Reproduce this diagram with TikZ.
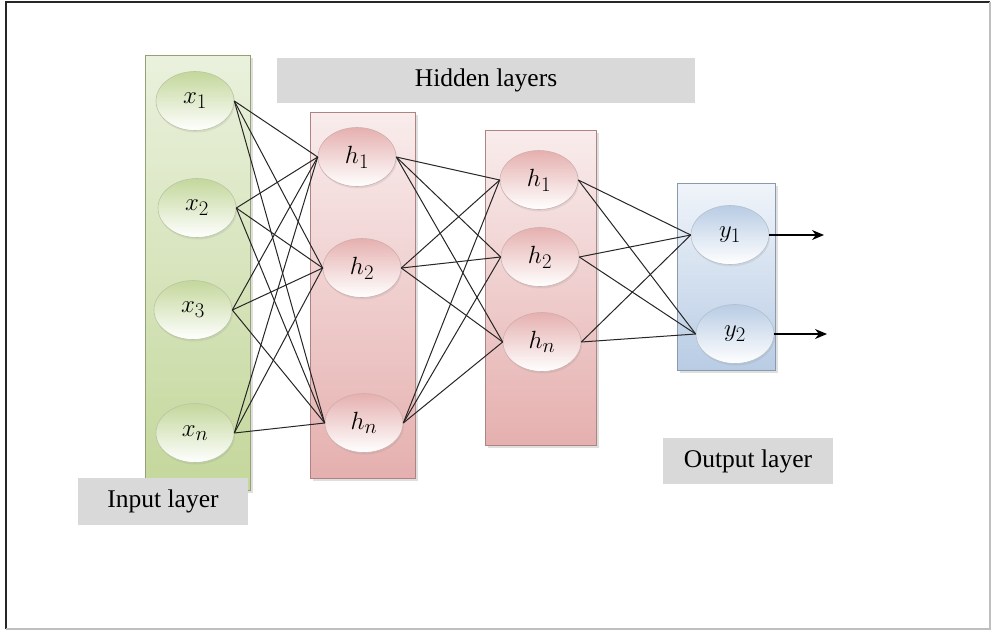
\documentclass[tikz,border=0pt]{standalone}
\usepackage{fontspec}
\setmainfont{Liberation Serif}
\usepackage{tikz}
\usetikzlibrary{arrows.meta,shapes.geometric,shadows}

\definecolor{ingreen}{RGB}{196,215,155}
\definecolor{inpale}{RGB}{234,241,221}
\definecolor{hidred}{RGB}{229,176,175}
\definecolor{hidpale}{RGB}{249,236,236}
\definecolor{outblue}{RGB}{184,204,228}
\definecolor{outpale}{RGB}{240,244,250}
\definecolor{tagfill}{RGB}{217,217,217}

\begin{document}
\begin{tikzpicture}[
  x=1pt,
  y=-1pt,
  layer/.style={draw=#1!75!black, line width=0.8pt, bottom color=#1,
    drop shadow={shadow xshift=2.5pt, shadow yshift=-2.5pt, opacity=0.25}},
  unit/.style={ellipse, draw=#1!80!black!70, line width=0.6pt, top color=#1,
    bottom color=white, minimum width=78pt, minimum height=59pt, inner sep=0pt,
    font=\fontsize{28}{30}\selectfont,
    drop shadow={shadow xshift=1pt, shadow yshift=-2pt, opacity=0.15}},
  tag/.style={fill=tagfill, inner sep=0pt, font=\fontsize{25.5}{28}\selectfont},
  link/.style={line width=1pt, black!85},
  outarrow/.style={-{Stealth[length=12pt,width=10pt]}, line width=1.2pt}
]
  % frame
  \fill[white] (0,0) rectangle (991,630);
  \draw[line width=2pt, black!85] (6,629) -- (6,2) -- (990,2);
  \draw[line width=1.5pt, black!25] (990,2) -- (990,629) -- (6,629);

  % layer boxes
  \draw[layer=ingreen, top color=inpale] (145,55) rectangle (250,490);
  \draw[layer=hidred, top color=hidpale] (310,112) rectangle (415,478);
  \draw[layer=hidred, top color=hidpale] (485,130) rectangle (596,445);
  \draw[layer=outblue, top color=outpale] (677,183) rectangle (775,370);

  \node[tag, minimum width=418pt, minimum height=45pt] (hidtag) at (486,80.5) {Hidden layers};

  % input layer
  \node[unit=ingreen] (x1) at (195,101) {$x_1$};
  \node[unit=ingreen] (x2) at (197,208) {$x_2$};
  \node[unit=ingreen] (x3) at (193,310) {$x_3$};
  \node[unit=ingreen] (xn) at (195,433) {$x_n$};

  % hidden layers
  \node[unit=hidred] (ha1) at (357,157) {$h_1$};
  \node[unit=hidred] (ha2) at (362,268) {$h_2$};
  \node[unit=hidred] (han) at (364,423) {$h_n$};
  \node[unit=hidred] (hb1) at (539,180) {$h_1$};
  \node[unit=hidred] (hb2) at (540,257) {$h_2$};
  \node[unit=hidred] (hbn) at (542,342) {$h_n$};

  % output layer
  \node[unit=outblue] (y1) at (730,235) {$y_1$};
  \node[unit=outblue] (y2) at (735,334) {$y_2$};
  \coordinate (o1) at (824,235);
  \coordinate (o2) at (827,334);

  \foreach \a in {x1,x2,x3,xn}
    \foreach \b in {ha1,ha2,han}
      \draw[link] (\a.east) -- (\b.west);
  \foreach \a in {ha1,ha2,han}
    \foreach \b in {hb1,hb2,hbn}
      \draw[link] (\a.east) -- (\b.west);
  \foreach \a in {hb1,hb2,hbn}
    \foreach \b in {y1,y2}
      \draw[link] (\a.east) -- (\b.west);
  \draw[outarrow] (y1.east) -- (o1);
  \draw[outarrow] (y2.east) -- (o2);

  \node[tag, minimum width=170pt, minimum height=47pt] (intag) at (163,501.5) {Input layer};
  \node[tag, minimum width=170pt, minimum height=46pt] (outtag) at (748,461) {Output layer};
\end{tikzpicture}
\end{document}
